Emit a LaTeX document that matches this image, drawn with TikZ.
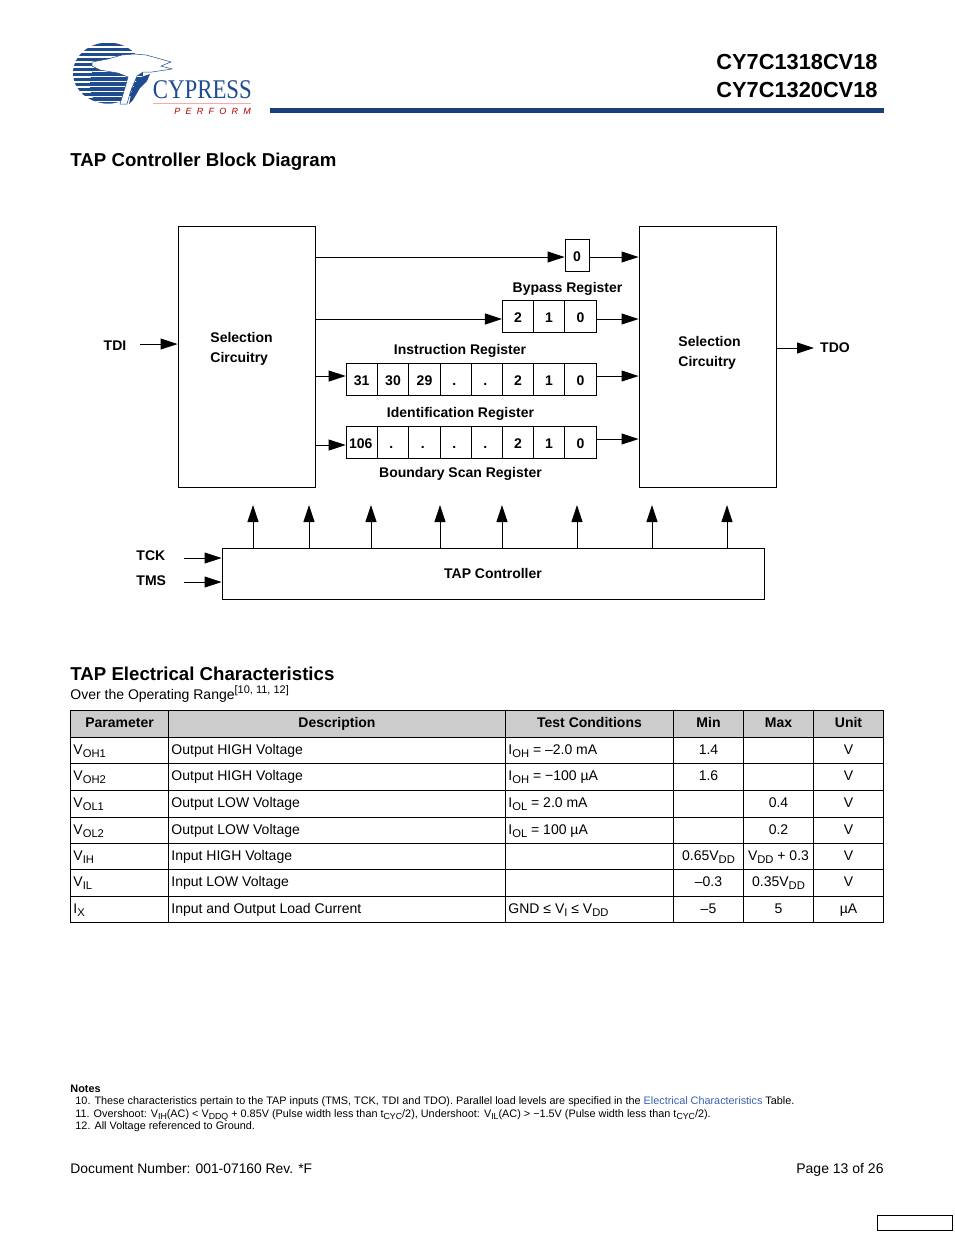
\documentclass[tikz,border=0pt]{standalone}
\usepackage{fontspec}
\setmainfont{Liberation Sans}
\newfontfamily\logofont{Liberation Serif}
\newfontfamily\perffont[LetterSpace=58]{Liberation Sans}
\usetikzlibrary{arrows.meta}
\definecolor{cynavy}{HTML}{1A3F7A}
\definecolor{logoblue}{HTML}{1F4C8F}
\definecolor{linkblue}{HTML}{3A62B0}
\newcommand{\fsz}[1]{\fontsize{#1}{#1}\selectfont}
\newcommand{\sbs}[1]{\raisebox{-3.4pt}{\fsz{11.2}#1}}
\newcommand{\nsbs}[1]{\raisebox{-2.6pt}{\fsz{8.8}#1}}
\newcommand{\dotc}{\kern-3.6pt.}
\tikzset{
  every picture/.style = {
    x=1pt,
    y=-1pt,
    line width=0.9pt
  }
}
\tikzset{
  sig/.style={
    -{Triangle[length=17pt,width=11pt]}
  },
  block/.style={
    draw,
    inner sep=0pt,
    minimum width=137pt,
    minimum height=261pt
  },
  cell/.style={
    draw,
    inner sep=0pt,
    minimum width=31.3pt,
    minimum height=32pt,
    text height=12pt,
    text depth=0pt,
    font=\fsz{14}\bfseries
  },
  lbl/.style={
    anchor=base,
    inner sep=0pt,
    font=\fsz{14}\bfseries
  },
  lblw/.style={
    lbl,
    anchor=base west
  },
  txt/.style={
    anchor=base west,
    inner sep=0pt,
    font=\fsz{14}
  },
  txtc/.style={
    txt,
    anchor=base
  },
  note/.style={
    anchor=base west,
    inner sep=0pt,
    font=\fsz{10.85}
  }
}
\begin{document}
\begin{tikzpicture}
        \useasboundingbox (0,0) rectangle (954,1235);
        % logo
        \begin{scope}
          \clip (108,73) ellipse (35 and 30.5);
          \foreach \sy in {43,48,...,103} {
            \fill[logoblue] (70,\sy) rectangle (150,\sy+3);
          }
          \begin{scope}
            \clip (124,84) circle (34);
            \fill[logoblue] (85,60) rectangle (150,104);
            \foreach \sy in {66,71,...,103} {
              \fill[white] (85,\sy) rectangle (150,\sy+1);
            }
          \end{scope}
        \end{scope}
        \filldraw[draw=logoblue,line width=0.5pt,fill=white] (92,62) -- (108,59) -- (122,55) -- (134,54) -- (146,55)
          -- (157,58) -- (171,62) -- (161,66) -- (172,69) -- (152,72) -- (143,72) -- (137,76) -- (131,90)
          -- (127,104) -- (120,104) -- (125,88) -- (128,77) -- (118,73) -- (100,70) -- (92,66) -- cycle;
        \fill[logoblue] (138,78) -- (150,74) -- (147,81) -- (140,88) -- (133,100) -- (129,104) -- (132,90) -- cycle;
        \node[anchor=base west,inner sep=0pt,text=logoblue] (logoname) at (152.5,98.5) {\scalebox{.845}[1]{\fsz{27}\logofont CYPRESS}};
        \draw[red!35!white,line width=1pt] (153,103) -- (251,103);
        \node[anchor=base west,inner sep=0pt,text=red!70!black] (logoperf) at (174,114) {\fsz{9}\perffont\itshape PERFORM};
        % page head
        \node[anchor=base east,inner sep=0pt,font=\fsz{21.8}\bfseries] (partA) at (878,69) {CY7C1318CV18};
        \node[anchor=base east,inner sep=0pt,font=\fsz{21.8}\bfseries] (partB) at (878,97) {CY7C1320CV18};
        \fill[cynavy] (270,108) rectangle (884,113);
        \node[anchor=base west,inner sep=0pt,font=\fsz{18.65}\bfseries] (titleA) at (70,166) {TAP Controller Block Diagram};
        % blocks
        \node[block] (selL) at (246.5,356.5) {};
        \node[block] (selR) at (707.5,356.5) {};
        \node[draw,inner sep=0pt,minimum width=542pt,minimum height=51pt] (ctrl) at (493,573.5) {};
        \node[lblw] (selLa) at (210,342) {Selection};
        \node[lblw] (selLb) at (210,362) {Circuitry};
        \node[lblw] (selRa) at (678,346) {Selection};
        \node[lblw] (selRb) at (678,366) {Circuitry};
        \node[lbl] (ctrlt) at (493,578) {TAP Controller};
        % registers
        \node[cell,minimum width=24pt] (byp) at (577,255.5) {0};
        \foreach \cx/\ct/\cn in {518/2/a,549/1/b,580.5/0/c} {
          \node[cell] (ir\cn) at (\cx,316) {\ct};
        }
        \foreach \cx/\ct/\cn in {361.7/31/a,393/30/b,424.5/29/c,456/\dotc/d,487/\dotc/e,518/2/f,549/1/g,580.5/0/h} {
          \node[cell] (id\cn) at (\cx,379) {\ct};
        }
        \foreach \cx/\ct/\cn in {361.7/\kern-2pt 106/a,393/\dotc/b,424.5/\dotc/c,456/\dotc/d,487/\dotc/e,518/2/f,549/1/g,580.5/0/h} {
          \node[cell] (bs\cn) at (\cx,442.5) {\ct};
        }
        \node[lbl] (bypt) at (567.5,292) {Bypass Register};
        \node[lbl] (irt) at (460,354) {Instruction Register};
        \node[lbl] (idt) at (460.5,417) {Identification Register};
        \node[lbl] (bst) at (460.5,477) {Boundary Scan Register};
        % signals
        \coordinate (tdi) at (140,344);
        \coordinate (tdo) at (814,348);
        \node[lbl] (tdil) at (115,350) {TDI};
        \node[lbl] (tdol) at (835,352) {TDO};
        \draw[sig] (tdi) -- (selL.west |- tdi);
        \draw[sig] (selR.east |- tdo) -- (tdo);
        \foreach \ry/\rn in {257/byp,319/ira,376/ida,445/bsa} {
          \draw[sig] (selL.east |- 0,\ry) -- (\rn.west |- 0,\ry);
        }
        \foreach \ry/\rn in {257/byp,319/irc,376/idh,439/bsh} {
          \draw[sig] (\rn.east |- 0,\ry) -- (selR.west |- 0,\ry);
        }
        \foreach \ax in {253,309,371,440,502,577,652,727} {
          \coordinate (up\ax) at (\ax,505);
          \draw[sig] (ctrl.north -| up\ax) -- (up\ax);
        }
        \coordinate (tck) at (184,558);
        \coordinate (tms) at (184,582);
        \node[lblw] (tckl) at (136,560) {TCK};
        \node[lblw] (tmsl) at (136,585) {TMS};
        \draw[sig] (tck) -- (ctrl.west |- tck);
        \draw[sig] (tms) -- (ctrl.west |- tms);
        % table
        \node[anchor=base west,inner sep=0pt,font=\fsz{18.65}\bfseries] (titleB) at (70,680) {TAP Electrical Characteristics};
        \node[txt] (subt) at (70,699) {Over the Operating Range\raisebox{5.5pt}{\fsz{11}[10, 11, 12]}};
        \fill[black!20] (70.5,710.5) rectangle (883.5,737);
        \draw (70.5,710.5) rectangle (883.5,922.5);
        \foreach \ly in {737,763.5,790.5,817,843,869.5,896} {
          \draw (70.5,\ly) -- (883.5,\ly);
        }
        \foreach \lx in {168.5,505.5,673.5,743.5,813.5} {
          \draw (\lx,710.5) -- (\lx,922.5);
        }
        \foreach \hx/\htxt/\hn in {119.5/Parameter/a,337/Description/b,589.5/Test Conditions/c,708.5/Min/d,778.5/Max/e,848.5/Unit/f} {
          \node[lbl] (head\hn) at (\hx,727.5) {\htxt};
        }
        \foreach \rw/\by/\pa/\de/\co/\mn/\mx/\un in {
          a/754/V\sbs{OH1}/Output HIGH Voltage/I\sbs{OH} = –2.0 mA/1.4//V,
          b/780/V\sbs{OH2}/Output HIGH Voltage/I\sbs{OH} = −100 µA/1.6//V,
          c/807/V\sbs{OL1}/Output LOW Voltage/I\sbs{OL} = 2.0 mA//0.4/V,
          d/834/V\sbs{OL2}/Output LOW Voltage/I\sbs{OL} = 100 µA//0.2/V,
          e/860/V\sbs{IH}/Input HIGH Voltage//0.65V\sbs{DD}/V\sbs{DD} + 0.3/V,
          f/886/V\sbs{IL}/Input LOW Voltage//–0.3/0.35V\sbs{DD}/V,
          g/913/I\sbs{X}/Input and Output Load Current/GND ≤ V\sbs{I} ≤ V\sbs{DD}/–5/5/µA} {
          \node[txt] (pa\rw) at (73,\by) {\pa};
          \node[txt] (de\rw) at (171,\by) {\de};
          \node[txt] (co\rw) at (508,\by) {\co};
          \node[txtc] (mn\rw) at (708.5,\by) {\mn};
          \node[txtc] (mx\rw) at (778.5,\by) {\mx};
          \node[txtc] (un\rw) at (848.5,\by) {\un};
        }
        % notes
        \node[note,font=\fsz{10.85}\bfseries] (notes) at (70,1092) {Notes};
        \node[note] (noteA) at (75,1104) {10. These characteristics pertain to the TAP inputs (TMS, TCK, TDI and TDO). Parallel load levels are specified in the \textcolor{linkblue}{Electrical Characteristics} Table.};
        \node[note] (noteB) at (75,1117) {11. Overshoot: V\nsbs{IH}(AC) < V\nsbs{DDQ} + 0.85V (Pulse width less than t\nsbs{CYC}/2), Undershoot: V\nsbs{IL}(AC) > −1.5V (Pulse width less than t\nsbs{CYC}/2).};
        \node[note] (noteC) at (75,1129) {12. All Voltage referenced to Ground.};
        \node[txt,font=\fsz{13.85}] (docno) at (70,1173) {Document Number: 001-07160 Rev. *F};
        \node[txt,anchor=base east] (pageno) at (884,1173) {Page 13 of 26};
        \node[draw,inner sep=0pt,minimum width=75pt,minimum height=15pt] (mark) at (915,1222.5) {};
    \end{tikzpicture}
\end{document}
